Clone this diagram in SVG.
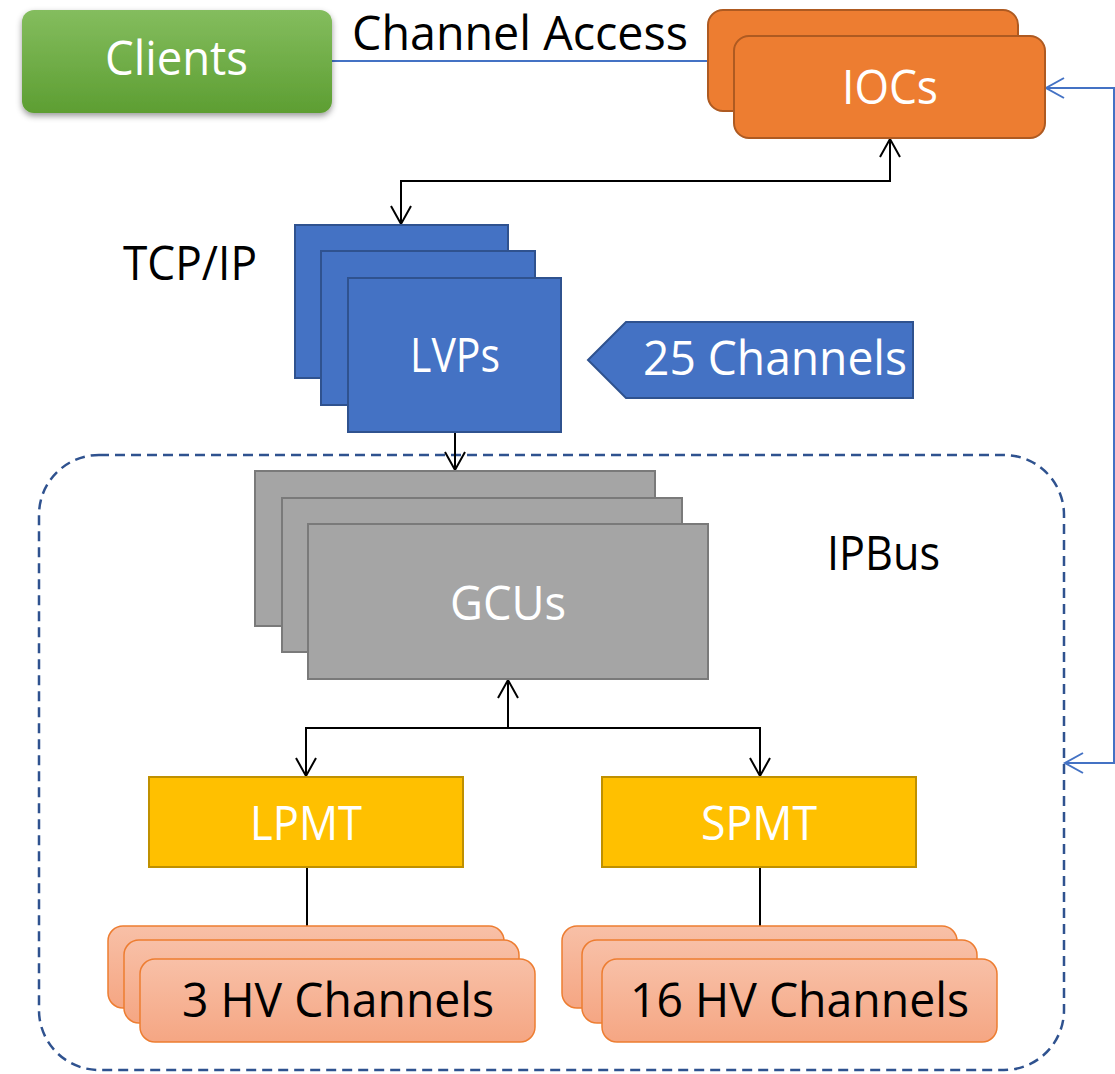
<svg xmlns="http://www.w3.org/2000/svg" width="1115" height="1074" viewBox="0 0 1115 1074">
  <defs>
    <linearGradient id="gClients" x1="0" y1="0" x2="0" y2="1">
      <stop offset="0" stop-color="#84bd5e"/>
      <stop offset="1" stop-color="#5d9e32"/>
    </linearGradient>
    <linearGradient id="gHV" x1="0" y1="0" x2="0" y2="1">
      <stop offset="0" stop-color="#f8c0a7"/>
      <stop offset="1" stop-color="#f5a683"/>
    </linearGradient>
    <filter id="shadow" x="-10%" y="-20%" width="120%" height="150%">
      <feDropShadow dx="0" dy="3" stdDeviation="3" flood-color="#000" flood-opacity="0.4"/>
    </filter>
    <marker id="arrBlack" markerUnits="userSpaceOnUse" markerWidth="24" markerHeight="24" viewBox="-20 -12 24 24" refX="0" refY="0" orient="auto-start-reverse">
      <path d="M -18 -10 L 0 0 L -18 10" fill="none" stroke="#000" stroke-width="2"/>
    </marker>
    <marker id="arrBlue" markerUnits="userSpaceOnUse" markerWidth="24" markerHeight="24" viewBox="-20 -12 24 24" refX="0" refY="0" orient="auto-start-reverse">
      <path d="M -18 -10 L 0 0 L -18 10" fill="none" stroke="#4472c4" stroke-width="2"/>
    </marker>
  </defs>
  <style>
    text { font-family: "Open Sans", "Noto Sans", sans-serif; font-size: 48px; }
    .w { fill: #ffffff; }
    .k { fill: #000000; }
    .ioc { fill: #ed7d31; stroke: #ae5a21; stroke-width: 2; }
    .lvp { fill: #4472c4; stroke: #2f528f; stroke-width: 2; }
    .gcu { fill: #a5a5a5; stroke: #7a7a7a; stroke-width: 2; }
    .pmt { fill: #ffc000; stroke: #bf9000; stroke-width: 2; }
    .hv { fill: url(#gHV); stroke: #ed7d31; stroke-width: 1.5; }
    .blk { fill: none; stroke: #000; stroke-width: 2; }
    .blu { fill: none; stroke: #4472c4; stroke-width: 2; }
  </style>

  <rect width="1115" height="1074" fill="#ffffff"/>

  <!-- IPBus domain -->
  <g id="ipbus-domain">
    <rect x="39" y="455" width="1025" height="615" rx="60" ry="60" fill="none" stroke="#2f528f" stroke-width="2.5" stroke-dasharray="10 6"/>
    <text class="k" x="827" y="570" textLength="113" lengthAdjust="spacingAndGlyphs">IPBus</text>
  </g>

  <!-- connectors -->
  <g id="connectors">
    <line class="blu" x1="332" y1="61" x2="708" y2="61"/>
    <path class="blk" d="M 890 139 L 890 181 L 401 181 L 401 224" marker-start="url(#arrBlack)" marker-end="url(#arrBlack)"/>
    <path class="blk" d="M 455 432 L 455 470" marker-end="url(#arrBlack)"/>
    <path class="blk" d="M 508 680 L 508 728 L 306 728 L 306 776" marker-start="url(#arrBlack)" marker-end="url(#arrBlack)"/>
    <path class="blk" d="M 508 728 L 760 728 L 760 776" marker-end="url(#arrBlack)"/>
    <line class="blk" x1="307" y1="867" x2="307" y2="927"/>
    <line class="blk" x1="760" y1="867" x2="760" y2="927"/>
    <path class="blu" d="M 1046 88 L 1114 88 L 1114 763 L 1065 763" marker-start="url(#arrBlue)" marker-end="url(#arrBlue)"/>
    <text class="k" x="352" y="50" font-size="44" textLength="336" lengthAdjust="spacingAndGlyphs">Channel Access</text>
    <text class="k" x="123" y="280" textLength="134" lengthAdjust="spacingAndGlyphs">TCP/IP</text>
  </g>

  <!-- Clients -->
  <g id="clients">
    <rect x="22" y="10" width="310" height="103" rx="12" ry="12" fill="url(#gClients)" filter="url(#shadow)"/>
    <text class="w" x="105" y="75" textLength="143" lengthAdjust="spacingAndGlyphs">Clients</text>
  </g>

  <!-- IOCs -->
  <g id="iocs">
    <rect class="ioc" x="708" y="10" width="310" height="101" rx="15" ry="15"/>
    <rect class="ioc" x="734" y="36" width="311" height="102" rx="15" ry="15"/>
    <text class="w" x="842" y="104" textLength="96" lengthAdjust="spacingAndGlyphs">IOCs</text>
  </g>

  <!-- LVPs -->
  <g id="lvps">
    <rect class="lvp" x="295" y="225" width="213" height="153"/>
    <rect class="lvp" x="321" y="251" width="214" height="154"/>
    <rect class="lvp" x="348" y="278" width="213" height="154"/>
    <text class="w" x="410" y="372" textLength="90" lengthAdjust="spacingAndGlyphs">LVPs</text>
  </g>

  <!-- 25 Channels tag -->
  <g id="lvp-channels">
    <polygon class="lvp" points="588,360 626,322 913,322 913,398 626,398"/>
    <text class="w" x="643" y="375" textLength="264" lengthAdjust="spacingAndGlyphs">25 Channels</text>
  </g>

  <!-- GCUs -->
  <g id="gcus">
    <rect class="gcu" x="255" y="471" width="400" height="155"/>
    <rect class="gcu" x="282" y="498" width="400" height="154"/>
    <rect class="gcu" x="308" y="524" width="400" height="155"/>
    <text class="w" x="450" y="620" textLength="116" lengthAdjust="spacingAndGlyphs">GCUs</text>
  </g>

  <!-- LPMT -->
  <g id="lpmt">
    <rect class="pmt" x="149" y="777" width="314" height="90"/>
    <text class="w" x="250" y="840" textLength="112" lengthAdjust="spacingAndGlyphs">LPMT</text>
  </g>

  <!-- SPMT -->
  <g id="spmt">
    <rect class="pmt" x="602" y="777" width="314" height="90"/>
    <text class="w" x="701" y="840" textLength="116" lengthAdjust="spacingAndGlyphs">SPMT</text>
  </g>

  <!-- LPMT high voltage channels -->
  <g id="hv-lpmt">
    <rect class="hv" x="108" y="926" width="396" height="82" rx="15" ry="15"/>
    <rect class="hv" x="124" y="940" width="395" height="83" rx="15" ry="15"/>
    <rect class="hv" x="140" y="959" width="395" height="83" rx="15" ry="15"/>
    <text class="k" x="182" y="1017" textLength="312" lengthAdjust="spacingAndGlyphs">3 HV Channels</text>
  </g>

  <!-- SPMT high voltage channels -->
  <g id="hv-spmt">
    <rect class="hv" x="562" y="926" width="395" height="82" rx="15" ry="15"/>
    <rect class="hv" x="582" y="940" width="395" height="83" rx="15" ry="15"/>
    <rect class="hv" x="602" y="959" width="395" height="83" rx="15" ry="15"/>
    <text class="k" x="630" y="1017" textLength="339" lengthAdjust="spacingAndGlyphs">16 HV Channels</text>
  </g>
</svg>
